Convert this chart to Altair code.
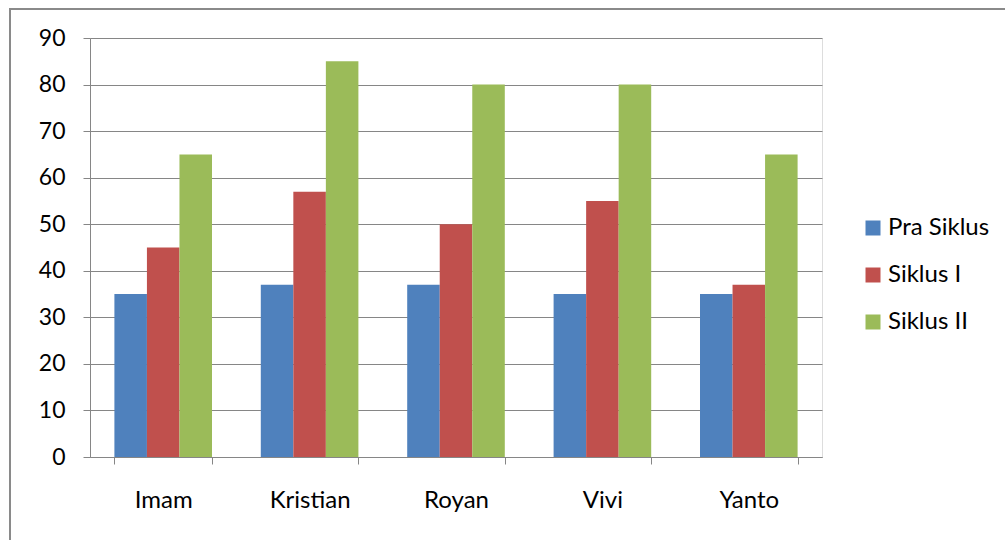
import altair as alt
import pandas as pd

names = ["Imam", "Kristian", "Royan", "Vivi", "Yanto"]
series = ["Pra Siklus", "Siklus I", "Siklus II"]
pra = [35, 37, 37, 35, 35]
siklus1 = [45, 57, 50, 55, 37]
siklus2 = [65, 85, 80, 80, 65]
colors = ["#4F81BD", "#C0504D", "#9BBB59"]
y_ticks = [0, 10, 20, 30, 40, 50, 60, 70, 80, 90]

rows = []
for i, n in enumerate(names):
    for s, vals in zip(series, [pra, siklus1, siklus2]):
        rows.append({"name": n, "series": s, "value": vals[i]})
df = pd.DataFrame(rows)

FONT = "Lato"
GRAY = "#868686"

bars = alt.Chart(df).mark_bar().encode(
    x=alt.X("name:N", sort=names,
            scale=alt.Scale(paddingInner=1/3, paddingOuter=1/6),
            axis=alt.Axis(title=None, labelAngle=0, tickBand="extent", tickSize=7,
                          domainColor=GRAY, tickColor=GRAY, labelColor="#000000",
                          labelFontSize=24, labelFont=FONT, labelPadding=24, grid=False)),
    xOffset=alt.XOffset("series:N", sort=series),
    y=alt.Y("value:Q", scale=alt.Scale(domain=[0, 90]),
            axis=alt.Axis(title=None, values=y_ticks, tickSize=7, grid=True,
                          gridColor=GRAY, domainColor=GRAY, tickColor=GRAY,
                          labelColor="#000000", labelFontSize=23, labelFont=FONT,
                          labelPadding=18)),
    color=alt.Color("series:N", sort=series,
                    scale=alt.Scale(domain=series, range=colors),
                    legend=alt.Legend(title=None, orient="none", legendX=771, legendY=178,
                                      symbolType="square", symbolSize=225,
                                      symbolStrokeWidth=0, labelFontSize=24, labelFont=FONT,
                                      labelColor="#000000", labelOffset=3, rowPadding=23,
                                      padding=0)),
)

border = alt.Chart(pd.DataFrame({"a": [0]})).mark_rect(
    fill=None, stroke="#8A8A8A", strokeWidth=2
).encode(
    x=alt.value(-80), y=alt.value(-29), x2=alt.value(1000), y2=alt.value(600)
)

chart = alt.layer(border, bars).properties(
    width=732, height=419,
    padding={"left": 90, "top": 38, "right": 183, "bottom": 83},
    autosize=alt.AutoSizeParams(type="none"),
).configure_view(stroke=None).configure(background="white")

chart.save("out.html", embed_options={"renderer": "svg", "actions": False})
